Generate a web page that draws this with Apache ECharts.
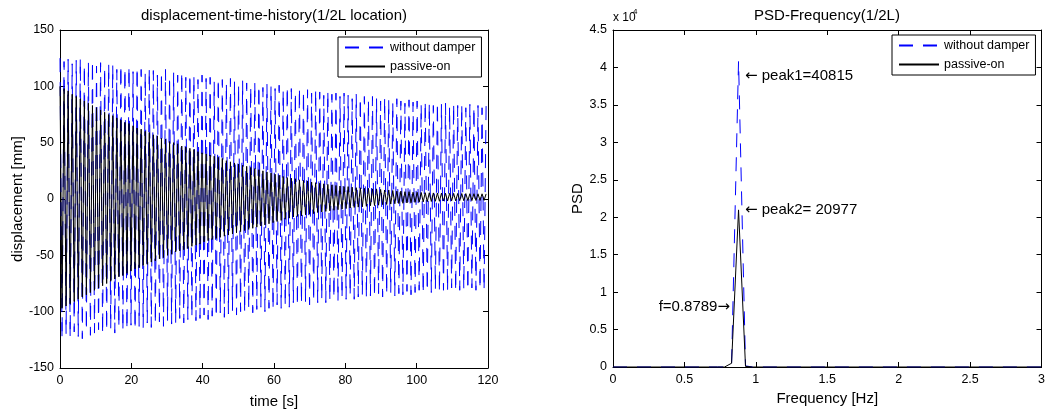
<!DOCTYPE html>
<html>
<head>
<meta charset="utf-8">
<script src="https://cdn.jsdelivr.net/npm/echarts@6/dist/echarts.min.js"></script>
<style>
  html, body { margin: 0; padding: 0; background: #fff; }
  #chart { width: 1048px; height: 414px; }
</style>
</head>
<body>
<div id="chart"></div>
<script>
// Mid-span (1/2L) displacement, one value per half cycle of the 0.8789 Hz mode.
let halfCycle = 0.5689; // s

// without damper: upper and lower peaks [mm]
let blueTops = [
  125, 122, 124, 120, 123, 125, 119, 121, 123, 118,
  121, 117, 120, 119, 115, 119, 116, 118, 113, 117,
  115, 112, 116, 114, 110, 113, 115, 109, 112, 110,
  113, 108, 111, 109, 106, 110, 107, 108, 104, 107,
  106, 103, 107, 104, 102, 105, 103, 100, 104, 101,
  99, 102, 100, 98, 101, 97, 100, 98, 95, 99,
  96, 97, 94, 97, 95, 92, 96, 93, 94, 91,
  94, 92, 89, 93, 90, 91, 88, 91, 89, 87,
  90, 88, 86, 89, 87, 85, 88, 86, 87, 84,
  87, 85, 83, 86, 84, 85, 82, 85, 83, 84,
  81, 84, 82, 83, 81, 83
];
let blueBottoms = [
  -124, -120, -123, -118, -122, -124, -117, -121, -119, -116,
  -120, -117, -115, -119, -114, -117, -116, -112, -116, -113,
  -114, -110, -114, -111, -109, -113, -108, -111, -110, -106,
  -110, -107, -105, -108, -106, -103, -107, -104, -105, -101,
  -105, -102, -99, -103, -100, -101, -97, -101, -98, -96,
  -100, -97, -98, -94, -97, -95, -96, -92, -95, -93,
  -91, -94, -91, -92, -89, -92, -90, -88, -91, -88,
  -89, -86, -89, -87, -85, -88, -86, -87, -84, -87,
  -85, -83, -86, -84, -85, -82, -85, -83, -81, -84,
  -82, -83, -80, -83, -81, -82, -79, -82, -81, -80,
  -81, -79, -81, -80, -81
];

// passive-on: upper and lower peaks [mm]
let blackTops = [
  100, 98, 96, 93, 91, 89, 87, 85, 83, 81,
  79, 77, 75, 74, 72, 70, 68, 67, 65, 63,
  62, 60, 59, 57, 56, 54, 53, 51, 50, 49,
  47, 46, 45, 44, 42, 41, 40, 39, 38, 37,
  36, 34, 33, 32, 31, 30, 29, 28, 27, 26,
  25, 24, 23, 22, 21, 20, 19, 18.5, 18, 17,
  16.5, 16, 15, 14.5, 14, 13.5, 13, 12.5, 12, 11.5,
  11, 11, 10.5, 10, 10, 9.5, 9.5, 9, 9, 8.5,
  8, 8, 7.5, 7, 7, 6.5, 6.5, 6, 6, 5.8,
  5.6, 5.5, 5.4, 5.3, 5.2, 5.1, 5, 5, 4.9, 4.8,
  4.8, 4.7, 4.7, 4.6, 4.6, 4.5
];
let blackBottoms = [
  -97, -95, -93, -91, -89, -87, -85, -83, -81, -79,
  -77, -75, -73, -71, -69, -68, -66, -64, -62, -61,
  -59, -58, -56, -55, -53, -52, -50, -49, -47, -46,
  -45, -44, -42, -41, -40, -38, -37, -36, -35, -34,
  -33, -32, -31, -30, -29, -28, -27, -26, -25, -24,
  -23, -22, -21, -20, -19, -18, -17, -16, -15.5, -15,
  -14, -13.5, -13, -12, -11.5, -11, -10.5, -10, -9.5, -9,
  -8.5, -8, -7.5, -7.2, -7, -6.5, -6, -5.8, -5.5, -5,
  -4.8, -4.5, -4.2, -4, -3.8, -3.5, -3.3, -3, -2.8, -2.6,
  -2.4, -2.2, -2, -2, -1.8, -1.8, -1.6, -1.6, -1.5, -1.5,
  -1.4, -1.4, -1.3, -1.3, -1.2
];

// PSD at 1/2L
let psdFreq = [0, 0.7324, 0.7812, 0.8301, 0.8789, 0.9277, 0.9766, 3];
let psdBlue = [0, 0, 0, 400, 40815, 150, 0, 0];
let psdBlack = [0, 0, 0, 500, 20977, 80, 0, 0];

let timeTicks = [0, 120, 20];
let dispTicks = [-150, 150, 50];
let freqTicks = [0, 3, 0.5];
let psdTicks = [0, 45000, 5000];

let font = "'Liberation Sans', Arial, sans-serif";
let blue = '#0000ff';
let black = '#000000';
let dash = [14, 10];

// interleave upper/lower peaks into one polyline
let zigzag = (tops, bottoms) => {
  let pts = [];
  for (let k = 0; k < tops.length; k++) {
    pts.push([2 * k * halfCycle, tops[k]]);
    if (k < bottoms.length) pts.push([(2 * k + 1) * halfCycle, bottoms[k]]);
  }
  return pts;
};

let zip = (xs, ys) => xs.map((x, i) => [x, ys[i]]);

let axis = (gridIndex, ticks, extra) => Object.assign({
  type: 'value',
  gridIndex: gridIndex,
  min: ticks[0],
  max: ticks[1],
  interval: ticks[2],
  axisLine: { show: true, onZero: false, lineStyle: { color: '#000', width: 1 } },
  axisTick: { show: true, inside: true, length: 5, lineStyle: { color: '#000', width: 1 } },
  axisLabel: { color: '#000', fontSize: 12.5, fontFamily: font, margin: 6 },
  splitLine: { show: false },
  nameTextStyle: { color: '#000', fontSize: 15, fontFamily: font },
  nameLocation: 'middle',
}, extra);

let mirror = { axisLabel: { show: false } };

let legendBox = (left, top) => ({
  left: left, top: top, orient: 'vertical',
  data: ['without damper', 'passive-on'],
  itemWidth: 40, itemHeight: 14, itemGap: 6, padding: [4, 6, 4, 6],
  borderColor: '#000', borderWidth: 1, backgroundColor: '#fff', borderRadius: 0,
  itemStyle: { opacity: 0 },
  textStyle: { color: '#000', fontSize: 12.5, fontFamily: font },
  selectedMode: false,
});

// text with a wider arrow glyph than Liberation Sans has
let note = (x, y, text, align) => ({
  type: 'text', x: x, y: y,
  style: {
    text: text, fill: '#000', align: align, verticalAlign: 'middle',
    fontSize: 15, fontFamily: font,
    rich: { arr: { fontSize: 15, fontFamily: 'DejaVu Sans', fill: '#000' } },
  },
});

let chart = echarts.init(document.getElementById('chart'), null, { renderer: 'canvas' });

chart.setOption({
  animation: false,
  backgroundColor: '#fff',
  textStyle: { fontFamily: font },
  grid: [
    { left: 60, right: 560, top: 30, bottom: 46 },
    { left: 613, right: 6, top: 30, bottom: 47 },
  ],
  xAxis: [
    axis(0, timeTicks, { position: 'bottom', name: 'time [s]', nameGap: 26 }),
    axis(0, timeTicks, Object.assign({ position: 'top' }, mirror)),
    axis(1, freqTicks, { position: 'bottom', name: 'Frequency [Hz]', nameGap: 24 }),
    axis(1, freqTicks, Object.assign({ position: 'top' }, mirror)),
  ],
  yAxis: [
    axis(0, dispTicks, { position: 'left', name: 'displacement [mm]', nameGap: 34 }),
    axis(0, dispTicks, Object.assign({ position: 'right' }, mirror)),
    axis(1, psdTicks, {
      position: 'left', name: 'PSD', nameGap: 28,
      axisLabel: { color: '#000', fontSize: 12.5, fontFamily: font, margin: 6, formatter: (v) => String(+(v / 10000).toFixed(1)) },
    }),
    axis(1, psdTicks, Object.assign({ position: 'right' }, mirror)),
  ],
  legend: [legendBox(338, 37), legendBox(892, 35)],
  series: [
    {
      name: 'without damper', type: 'line', xAxisIndex: 0, yAxisIndex: 0,
      data: zigzag(blueTops, blueBottoms), showSymbol: false, symbol: 'none',
      lineStyle: { color: blue, width: 1, type: dash }, itemStyle: { color: blue },
    },
    {
      name: 'passive-on', type: 'line', xAxisIndex: 0, yAxisIndex: 0,
      data: zigzag(blackTops, blackBottoms), showSymbol: false, symbol: 'none',
      lineStyle: { color: black, width: 1 }, itemStyle: { color: black },
    },
    {
      name: 'without damper', type: 'line', xAxisIndex: 2, yAxisIndex: 2,
      data: zip(psdFreq, psdBlue), showSymbol: false, symbol: 'none',
      lineStyle: { color: blue, width: 1, type: dash }, itemStyle: { color: blue },
    },
    {
      name: 'passive-on', type: 'line', xAxisIndex: 2, yAxisIndex: 2,
      data: zip(psdFreq, psdBlack), showSymbol: false, symbol: 'none',
      lineStyle: { color: black, width: 1 }, itemStyle: { color: black },
    },
  ],
  graphic: [
    { type: 'text', x: 274, y: 16, style: { text: 'displacement-time-history(1/2L location)', fill: '#000', font: '15px ' + font, align: 'center', verticalAlign: 'middle' } },
    { type: 'text', x: 827, y: 16, style: { text: 'PSD-Frequency(1/2L)', fill: '#000', font: '15px ' + font, align: 'center', verticalAlign: 'middle' } },
    { type: 'text', x: 613, y: 18, style: { text: 'x 10', fill: '#000', font: '12px ' + font, align: 'left', verticalAlign: 'middle' } },
    { type: 'text', x: 633, y: 12, style: { text: '4', fill: '#000', font: '8px ' + font, align: 'left', verticalAlign: 'middle' } },
    note(745, 76, '{arr|\u2190} peak1=40815', 'left'),
    note(745, 210, '{arr|\u2190} peak2= 20977', 'left'),
    note(730, 307, 'f=0.8789{arr|\u2192}', 'right'),
  ],
});
</script>
</body>
</html>
